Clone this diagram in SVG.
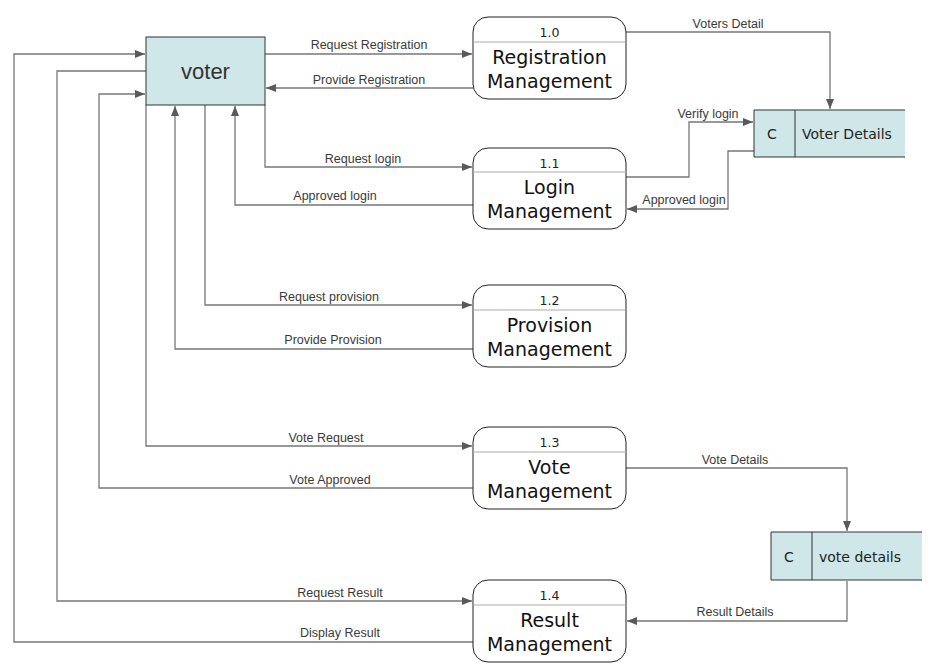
<svg xmlns="http://www.w3.org/2000/svg" width="940" height="672" viewBox="0 0 940 672">
<style>
.edge{fill:none;stroke:#777;stroke-width:1.3}
.lbl{font-family:"Liberation Sans",Arial,sans-serif;font-size:12.5px;fill:#3a3a3a;text-anchor:middle}
.proc{fill:#fff;stroke:#222;stroke-width:1}
.div{stroke:#aaa;stroke-width:1}
.num{font-family:"DejaVu Sans",sans-serif;font-size:12.5px;fill:#222;text-anchor:middle}
.title{font-family:"DejaVu Sans",sans-serif;font-size:19px;fill:#111;text-anchor:middle}
.store{fill:#cfe7e8;stroke:none}
.sedge{fill:none;stroke:#333;stroke-width:1}
.stxt{font-family:"DejaVu Sans",sans-serif;font-size:14px;fill:#222}
</style>
<defs>
<marker id="arr" markerUnits="userSpaceOnUse" markerWidth="11" markerHeight="8" refX="10" refY="4" orient="auto">
<path d="M0,0 L10,4 L0,8 z" fill="#595959"/>
</marker>
</defs>
<rect width="940" height="672" fill="#fff"/>

<g id="connectors">
<path class="edge" d="M265,54 H472" marker-end="url(#arr)"/>
<text class="lbl" x="369" y="49">Request Registration</text>
<path class="edge" d="M473,88 H266" marker-end="url(#arr)"/>
<text class="lbl" x="369" y="84">Provide Registration</text>
<path class="edge" d="M265,105 V167 H472" marker-end="url(#arr)"/>
<text class="lbl" x="363" y="163">Request login</text>
<path class="edge" d="M473,205 H235 V106" marker-end="url(#arr)"/>
<text class="lbl" x="335" y="200">Approved login</text>
<path class="edge" d="M205,105 V305 H472" marker-end="url(#arr)"/>
<text class="lbl" x="329" y="301">Request provision</text>
<path class="edge" d="M473,349 H175 V106" marker-end="url(#arr)"/>
<text class="lbl" x="333" y="344">Provide Provision</text>
<path class="edge" d="M146,105 V446 H472" marker-end="url(#arr)"/>
<text class="lbl" x="326" y="442">Vote Request</text>
<path class="edge" d="M473,488 H99 V94 H145" marker-end="url(#arr)"/>
<text class="lbl" x="330" y="484">Vote Approved</text>
<path class="edge" d="M146,71 H57 V601 H472" marker-end="url(#arr)"/>
<text class="lbl" x="340" y="597">Request Result</text>
<path class="edge" d="M473,642 H14 V54 H145" marker-end="url(#arr)"/>
<text class="lbl" x="340" y="637">Display Result</text>
<path class="edge" d="M626,32 H830 V109" marker-end="url(#arr)"/>
<text class="lbl" x="728" y="28">Voters Detail</text>
<path class="edge" d="M626,177 H689 V122 H753" marker-end="url(#arr)"/>
<text class="lbl" x="708" y="118">Verify login</text>
<path class="edge" d="M754,151 H728 V209 H627" marker-end="url(#arr)"/>
<text class="lbl" x="684" y="204">Approved login</text>
<path class="edge" d="M626,468 H847 V531" marker-end="url(#arr)"/>
<text class="lbl" x="735" y="464">Vote Details</text>
<path class="edge" d="M847,581 V621 H627" marker-end="url(#arr)"/>
<text class="lbl" x="735" y="616">Result Details</text>
</g>

<g id="voter">
<rect x="146" y="37" width="119" height="68" fill="#cfe7e8" stroke="#333" stroke-width="1"/>
<text x="205.5" y="79" font-family="'Liberation Sans',Arial,sans-serif" font-size="22" fill="#333" text-anchor="middle">voter</text>
</g>

<g id="p1_0">
<rect class="proc" x="473" y="17" width="153" height="82" rx="15"/>
<line class="div" x1="473" y1="42" x2="626" y2="42"/>
<text class="num" x="549.5" y="37">1.0</text>
<text class="title" x="549.5" y="64">Registration</text>
<text class="title" x="549.5" y="87.5">Management</text>
</g>

<g id="p1_1">
<rect class="proc" x="473" y="148" width="153" height="81" rx="15"/>
<line class="div" x1="473" y1="172" x2="626" y2="172"/>
<text class="num" x="549.5" y="168">1.1</text>
<text class="title" x="549.5" y="194">Login</text>
<text class="title" x="549.5" y="218">Management</text>
</g>

<g id="p1_2">
<rect class="proc" x="473" y="285" width="153" height="82" rx="15"/>
<line class="div" x1="473" y1="310" x2="626" y2="310"/>
<text class="num" x="549.5" y="305">1.2</text>
<text class="title" x="549.5" y="332">Provision</text>
<text class="title" x="549.5" y="355.5">Management</text>
</g>

<g id="p1_3">
<rect class="proc" x="473" y="427" width="153" height="82" rx="15"/>
<line class="div" x1="473" y1="452" x2="626" y2="452"/>
<text class="num" x="549.5" y="447">1.3</text>
<text class="title" x="549.5" y="474">Vote</text>
<text class="title" x="549.5" y="497.5">Management</text>
</g>

<g id="p1_4">
<rect class="proc" x="473" y="580" width="153" height="82" rx="15"/>
<line class="div" x1="473" y1="605" x2="626" y2="605"/>
<text class="num" x="549.5" y="600">1.4</text>
<text class="title" x="549.5" y="627">Result</text>
<text class="title" x="549.5" y="650.5">Management</text>
</g>

<g id="store_voter">
<rect class="store" x="754" y="110" width="151" height="47"/>
<path class="sedge" d="M905,110 H754 V157 H905 M795,110 V157"/>
<text class="stxt" x="767" y="139">C</text>
<text class="stxt" x="802" y="139">Voter Details</text>
</g>

<g id="store_vote">
<rect class="store" x="771" y="532" width="151" height="48"/>
<path class="sedge" d="M922,532 H771 V580 H922 M812,532 V580"/>
<text class="stxt" x="784" y="562">C</text>
<text class="stxt" x="819" y="562">vote details</text>
</g>
</svg>
